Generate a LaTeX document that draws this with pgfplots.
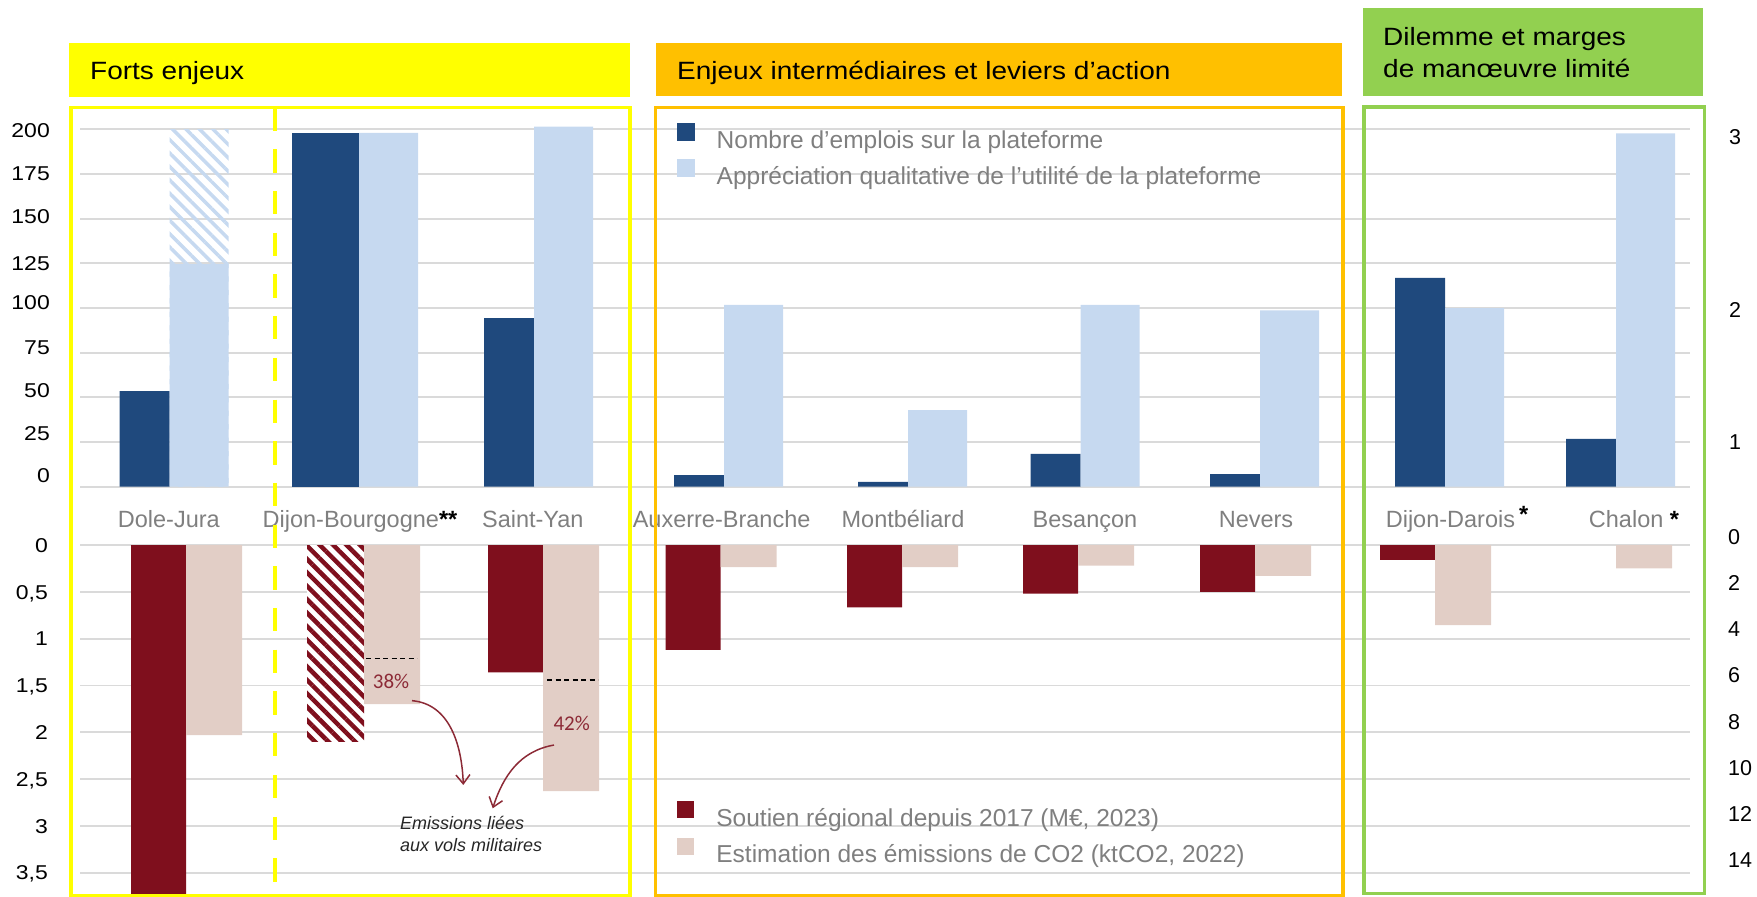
\documentclass[border=0pt]{standalone}
\usepackage{pgfplots}
\pgfplotsset{compat=1.18}
\usepackage{fontspec}
\setmainfont{Liberation Sans}
\newfontfamily\carlito{Carlito}
\usetikzlibrary{patterns.meta,arrows.meta}

\definecolor{dblue}{HTML}{1F497D}
\definecolor{lblue}{HTML}{C6D9F0}
\definecolor{dred}{HTML}{7F0F1D}
\definecolor{lpink}{HTML}{E2CEC6}
\definecolor{gridc}{HTML}{DADADA}
\definecolor{labgray}{HTML}{7F7F7F}
\definecolor{fyellow}{HTML}{FFFF00}
\definecolor{forange}{HTML}{FFC000}
\definecolor{fgreen}{HTML}{92D050}
\definecolor{arrred}{HTML}{8C2A36}

\newcommand{\fs}[1]{\fontsize{#1}{#1}\selectfont}
\newcommand{\sx}[1]{\scalebox{1.15}[1]{#1}}

\pgfplotsset{
  base/.style={scale only axis, width=1610pt, xmin=80, xmax=1690},
  topbox/.style={base, height=380.7pt, ymin=0, ymax=213.04, at={(80pt,-486.7pt)}, anchor=south west},
  botbox/.style={base, height=351pt, ymin=-3.75, ymax=0, at={(80pt,-896pt)}, anchor=south west},
  bare/.style={axis line style={draw=none}, major tick length=0pt, tick style={draw=none}},
  sqlegend/.style={legend image code/.code={\fill[##1] (0pt,-0.5pt) rectangle (17.5pt,17pt);}},
}

\begin{document}
\begin{tikzpicture}
\useasboundingbox (0pt,0pt) rectangle (1757pt,-897pt);

% ---------------- top chart ----------------
\begin{axis}[topbox, bare, sqlegend,
  ytick={0,25,...,200}, yticklabels={}, ymajorgrids,
  grid style={gridc, line width=1.8pt},
  xtick={168.8,360,532.8,721.6,903,1085,1256,1457,1634},
  xticklabels={Dole-Jura, Dijon-Bourgogne\textcolor{black}{\textbf{**}}, Saint-Yan, Auxerre-Branche, Montbéliard, Besançon, Nevers, Dijon-Darois\,\raisebox{5pt}{\textcolor{black}{\textbf{*}}}, Chalon \textcolor{black}{\textbf{*}}},
  xticklabel style={anchor=base, yshift=-40.8pt, inner sep=0pt, font=\fs{23.5}, text=labgray},
  legend style={at={(0.3708,0.9547)}, anchor=north west, draw=none, fill=none, inner sep=0pt,
    row sep=9pt, column sep=22pt, font=\fs{24.5}, nodes={inner sep=0pt, text=labgray}},
  legend cell align=left,
]
\addplot[ybar, bar width=59pt, bar shift=29.5pt, draw=none, pattern={Lines[angle=-45,distance=9.5pt,line width=3.5pt]}, pattern color=lblue, forget plot]
  coordinates {(169.5,200)};
\addplot[ybar, bar width=50pt, bar shift=-25pt, fill=dblue, draw=none]
  coordinates {(169.5,53.5) (534,94.3) (724,6.5) (908,2.7) (1080.5,18.4) (1260,7.1) (1445,116.8) (1616,26.7)};
\addlegendentry{Nombre d’emplois sur la plateforme}
\addplot[ybar, bar width=59pt, bar shift=29.5pt, fill=lblue, draw=none]
  coordinates {(169.5,124.5) (359,198) (534,201.5) (724,101.8) (908,42.9) (1080.5,101.8) (1260,98.7) (1445,99.9) (1616,197.7)};
\addlegendentry{Appréciation qualitative de l’utilité de la plateforme}
\addplot[ybar, bar width=67pt, bar shift=-33.5pt, fill=dblue, draw=none, forget plot]
  coordinates {(359,198)};
\end{axis}

% left labels (top)
\begin{axis}[topbox, bare, hide x axis, axis y line*=left,
  ytick={6.2,30.05,54.2,78.2,103,125,151.2,175.2,199.2},
  yticklabels={\sx{0},\sx{25},\sx{50},\sx{75},\sx{100},\sx{125},\sx{150},\sx{175},\sx{200}},
  yticklabel style={anchor=base east, inner sep=0pt, xshift=-30pt, yshift=-7.2pt, font=\fs{20}}]
\end{axis}
% right labels (top)
\begin{axis}[topbox, bare, hide x axis, axis y line*=right,
  ytick={25.2,98.9,195.9}, yticklabels={1,2,3},
  yticklabel style={anchor=base west, inner sep=0pt, xshift=39pt, yshift=-7.7pt, font=\fs{21.5}}]
\end{axis}

% ---------------- bottom chart ----------------
\begin{axis}[botbox, bare, sqlegend,
  ytick={0,-0.5,...,-3.5}, yticklabels={}, ymajorgrids, xtick=\empty,
  grid style={gridc, line width=1.8pt},
  legend style={at={(0.3706,0.2717)}, anchor=north west, draw=none, fill=none, inner sep=0pt,
    row sep=10pt, column sep=22pt, font=\fs{24.5}, nodes={inner sep=0pt, text=labgray}},
  legend cell align=left,
]
\addplot[ybar, bar width=57pt, bar shift=-28.5pt, fill=white, draw=none, forget plot]
  coordinates {(364,-2.10)};
\addplot[ybar, bar width=57pt, bar shift=-28.5pt, draw=none, pattern={Lines[angle=-45,distance=9.5pt,line width=4.5pt]}, pattern color=dred, forget plot]
  coordinates {(364,-2.10)};
\addplot[ybar, bar width=55pt, bar shift=-27.5pt, fill=dred, draw=none]
  coordinates {(186,-3.9) (543,-1.36) (720.5,-1.12) (902,-0.666) (1078,-0.52) (1255,-0.50) (1435,-0.16)};
\addlegendentry{Soutien régional depuis 2017 (M€, 2023)}
\addplot[ybar, bar width=56pt, bar shift=28pt, fill=lpink, draw=none]
  coordinates {(186,-2.03) (364,-1.70) (543,-2.63) (720.5,-0.235) (902,-0.235) (1078,-0.22) (1255,-0.33) (1435,-0.857) (1616,-0.25)};
\addlegendentry{Estimation des émissions de CO2 (ktCO2, 2022)}
\addplot[black, line width=1.3pt, dash pattern=on 5pt off 3.5pt, forget plot]
  coordinates {(366,-1.21) (417,-1.21)};
\addplot[black, line width=1.3pt, dash pattern=on 5pt off 3.5pt, forget plot]
  coordinates {(547,-1.442) (598,-1.442)};
\node[font=\carlito\fs{21}, text=arrred] at (axis cs:391,-1.453) {38\%};
\node[font=\carlito\fs{21}, text=arrred] at (axis cs:571.7,-1.905) {42\%};
\draw[arrred, line width=1.5pt, -{Straight Barb[length=9pt,width=14pt]}]
  (axis cs:412,-1.663) to[out=-5,in=92] (axis cs:463.3,-2.564);
\draw[arrred, line width=1.5pt, -{Straight Barb[length=9pt,width=14pt]}]
  (axis cs:554,-2.137) to[out=190,in=72] (axis cs:492.7,-2.813);
\node[font=\itshape\fs{18}, text=black!85, anchor=base west, inner sep=0pt] at (axis cs:400,-3.04) {Emissions liées};
\node[font=\itshape\fs{18}, text=black!85, anchor=base west, inner sep=0pt] at (axis cs:400,-3.275) {aux vols militaires};
\end{axis}

% left labels (bottom)
\begin{axis}[botbox, bare, hide x axis, axis y line*=left,
  ytick={0,-0.5,-1,-1.5,-2,-2.5,-3,-3.5},
  yticklabels={\sx{0},\sx{0,5},\sx{1},\sx{1,5},\sx{2},\sx{2,5},\sx{3},\sx{3,5}},
  yticklabel style={anchor=base east, inner sep=0pt, xshift=-32pt, yshift=-7.2pt, font=\fs{20}}]
\end{axis}
% right labels (bottom)
\begin{axis}[base, bare, height=366pt, ymin=-15.561, ymax=0.29, at={(80pt,-896pt)}, anchor=south west,
  hide x axis, axis y line*=right,
  ytick={0,-2,-4,-6,-8,-10,-12,-14}, yticklabels={0,2,4,6,8,10,12,14},
  yticklabel style={anchor=base west, inner sep=0pt, xshift=38pt, yshift=-7.7pt, font=\fs{21.5}}]
\end{axis}

% ---------------- frames ----------------
\draw[fyellow, line width=3.4pt] (71pt,-107.7pt) rectangle (630pt,-895.7pt);
\draw[forange, line width=3.2pt] (655.5pt,-107.5pt) rectangle (1343pt,-895.7pt);
\draw[fgreen, line width=3.4pt] (1364pt,-107pt) rectangle (1704.3pt,-893.4pt);
\draw[fyellow, line width=4.7pt, dash pattern=on 23.3pt off 18.4pt] (275pt,-107.6pt) -- (275pt,-895pt);

% ---------------- title boxes ----------------
\fill[fyellow] (69.3pt,-43pt) rectangle (630pt,-96.7pt);
\node[anchor=base west, inner sep=0pt, font=\fs{25}] at (90pt,-79pt) {\scalebox{1.12}[1]{Forts enjeux}};
\fill[forange] (655.5pt,-43pt) rectangle (1342.4pt,-96pt);
\node[anchor=base west, inner sep=0pt, font=\fs{25}] at (677pt,-79pt) {\scalebox{1.12}[1]{Enjeux intermédiaires et leviers d’action}};
\fill[fgreen] (1362.7pt,-8.3pt) rectangle (1703.3pt,-95.7pt);
\node[anchor=base west, inner sep=0pt, font=\fs{25}] at (1383pt,-45.7pt) {\scalebox{1.12}[1]{Dilemme et marges}};
\node[anchor=base west, inner sep=0pt, font=\fs{25}] at (1383pt,-77pt) {\scalebox{1.12}[1]{de manœuvre limité}};
\end{tikzpicture}
\end{document}
